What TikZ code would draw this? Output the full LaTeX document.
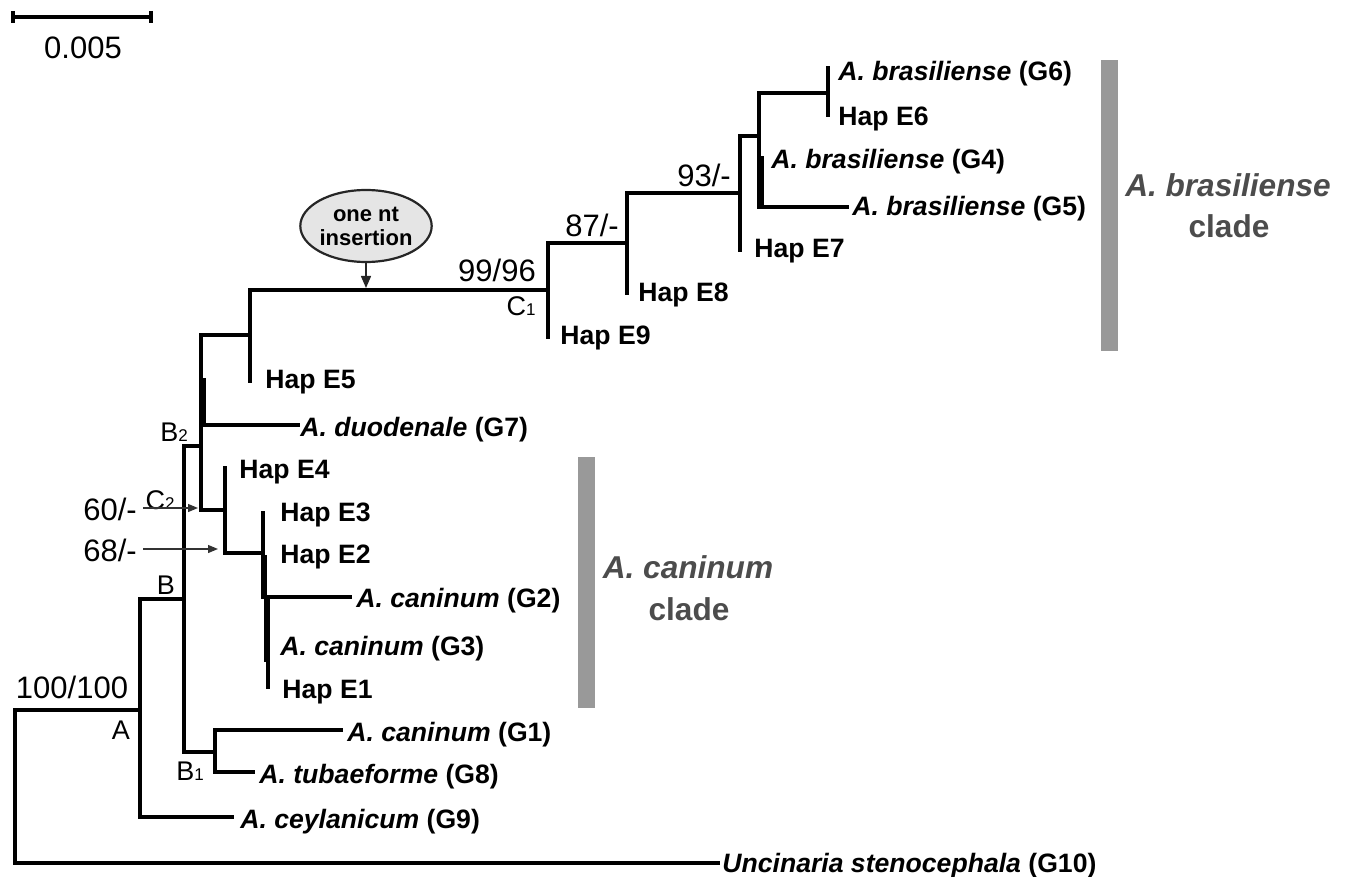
\documentclass[tikz,border=0pt]{standalone}
\usepackage{fontspec}
\setmainfont{Liberation Sans}
\usetikzlibrary{arrows.meta,shapes.geometric}
\newcommand\subn[1]{{\fontsize{8.5}{8.5}\selectfont #1}}
\begin{document}
\begin{tikzpicture}[x=0.5pt,y=-0.5pt,
  tree/.style={line width=1.9pt, line cap=rect, line join=miter},
  tiplab/.style={anchor=base west, inner sep=0pt, font=\bfseries\fontsize{13.3}{13.3}\selectfont},
  suplab/.style={anchor=center, inner sep=0pt, font=\fontsize{15.5}{15.5}\selectfont},
  nodelab/.style={anchor=center, inner sep=0pt, font=\fontsize{13.5}{13.5}\selectfont},
  pointer/.style={line width=0.6pt, draw=black!80, -{Triangle[length=5pt,width=4pt]}},
  cladebar/.style={fill=black!40, draw=none},
  cladetext/.style={anchor=base, inner sep=0pt, text=black!70, font=\bfseries\fontsize{15.8}{15.8}\selectfont}]
\useasboundingbox (0,0) rectangle (1345,877);

% ---- scale bar
\coordinate (sbL) at (13,17); \coordinate (sbR) at (151,17);
\coordinate (sbLt) at (13,11); \coordinate (sbLb) at (13,23);
\coordinate (sbRt) at (151,11); \coordinate (sbRb) at (151,23);
\draw[line width=1.9pt] (sbL) -- (sbR);
\draw[line width=1.9pt] (sbLt) -- (sbLb);
\draw[line width=1.9pt] (sbRt) -- (sbRb);
\node[suplab] (sbtext) at (83,48) {0.005};

% ---- internal nodes
\coordinate (R)   at (15,786);
\coordinate (nA)  at (140,710);
\coordinate (nB)  at (184,599);
\coordinate (nB1) at (215,752);
\coordinate (nB2) at (201,446);
\coordinate (nDt) at (204,380);
\coordinate (nD)  at (204,425);
\coordinate (nE5) at (250,335);
\coordinate (nC2) at (225,510);
\coordinate (nC2b) at (225,553);
\coordinate (nE2) at (263,553);
\coordinate (nE2b) at (263,597);
\coordinate (nE2t) at (265,557);
\coordinate (nE2u) at (265,597);
\coordinate (nG2) at (268,597);
\coordinate (nG2t) at (266,597);
\coordinate (nG2u) at (266,660);
\coordinate (nC1) at (548,290);
\coordinate (nE8) at (627,243);
\coordinate (n93) at (740,193);
\coordinate (nG5) at (759,136);
\coordinate (nG5b) at (759,207);
\coordinate (nG4t) at (762,158);
\coordinate (nG4) at (762,207);
\coordinate (nE6) at (828,93);

% ---- tips
\coordinate (tG10) at (718,863);
\coordinate (tG9) at (232,817);
\coordinate (tG1) at (341,730);
\coordinate (tG8) at (253,772);
\coordinate (tG7) at (298,425);
\coordinate (tE5) at (250,381);
\coordinate (tE4) at (225,468);
\coordinate (tE3) at (263,513);
\coordinate (tG2) at (350,597);
\coordinate (tE1) at (268,687);
\coordinate (tE9) at (548,337);
\coordinate (tE8) at (627,293);
\coordinate (tE7) at (740,250);
\coordinate (tG5) at (847,207);
\coordinate (tG6) at (828,68);
\coordinate (tE6) at (828,115);

% ---- branches
\draw[tree] (nA) -| (R) |- (tG10);
\draw[tree] (nB) -| (nA) |- (tG9);
\draw[tree] (nB2) -| (nB) |- (nB1);
\draw[tree] (tG1) -| (nB1) |- (tG8);
\draw[tree] (nE5) -| (nB2) |- (nC2);
\draw[tree] (nDt) -- (nD) -- (tG7);
\draw[tree] (nC1) -| (nE5) |- (tE5);
\draw[tree] (tE4) -- (nC2b) -- (nE2);
\draw[tree] (tE3) -- (nE2b);
\draw[tree] (nE2t) -- (nE2u);
\draw[tree] (nG2) -- (tE1);
\draw[tree] (nG2t) -- (nG2u);
\draw[tree] (nG2) -- (tG2);
\draw[tree] (nE8) -| (nC1) |- (tE9);
\draw[tree] (n93) -| (nE8) |- (tE8);
\draw[tree] (nG5) -| (n93) |- (tE7);
\draw[tree] (nE6) -| (nG5) -- (nG5b) -- (tG5);
\draw[tree] (nG4t) -- (nG4);
\draw[tree] (tG6) -- (tE6);

% ---- tip labels
\node[tiplab] (lG6) at (838,81) {\textit{A. brasiliense} (G6)};
\node[tiplab] (lE6) at (838,126) {Hap E6};
\node[tiplab] (lG4) at (771,169) {\textit{A. brasiliense} (G4)};
\node[tiplab] (lG5) at (852,216) {\textit{A. brasiliense} (G5)};
\node[tiplab] (lE7) at (754,258) {Hap E7};
\node[tiplab] (lE8) at (638,302) {Hap E8};
\node[tiplab] (lE9) at (560,345) {Hap E9};
\node[tiplab] (lE5) at (265,388) {Hap E5};
\node[tiplab] (lG7) at (300,437) {\textit{A. duodenale} (G7)};
\node[tiplab] (lE4) at (239,478) {Hap E4};
\node[tiplab] (lE3) at (280,521) {Hap E3};
\node[tiplab] (lE2) at (280,563) {Hap E2};
\node[tiplab] (lG2) at (356,607) {\textit{A. caninum} (G2)};
\node[tiplab] (lG3) at (280,655) {\textit{A. caninum} (G3)};
\node[tiplab] (lE1) at (282,698) {Hap E1};
\node[tiplab] (lG1) at (347,741) {\textit{A. caninum} (G1)};
\node[tiplab] (lG8) at (259,783) {\textit{A. tubaeforme} (G8)};
\node[tiplab] (lG9) at (240,828) {\textit{A. ceylanicum} (G9)};
\node[tiplab] (lG10) at (722,872) {\textit{Uncinaria stenocephala} (G10)};

% ---- support values and node names
\node[suplab] (s100) at (72,687) {100/100};
\node[suplab] (s99) at (497,270) {99/96};
\node[suplab] (s87) at (592,225) {87/-};
\node[suplab] (s93) at (704,175) {93/-};
\node[suplab] (s60) at (110,509) {60/-};
\node[suplab] (s68) at (110,550) {68/-};
\node[nodelab] (lA) at (121,730) {A};
\node[nodelab] (lB) at (166,585) {B};
\node[nodelab] (lB1) at (190,771) {B\subn{1}};
\node[nodelab] (lB2) at (174,432) {B\subn{2}};
\node[nodelab] (lC2) at (160,500) {C\subn{2}};
\node[nodelab] (lC1) at (521,306) {C\subn{1}};

% ---- pointer arrows
\coordinate (p60s) at (143,508); \coordinate (p60e) at (198,508);
\coordinate (p68s) at (143,549); \coordinate (p68e) at (218,549);
\draw[pointer] (p60s) -- (p60e);
\draw[pointer] (p68s) -- (p68e);

% ---- insertion callout
\node[ellipse, draw=black!85, fill=black!10, line width=1.1pt, minimum width=62.5pt, minimum height=36pt, inner sep=0pt, align=center, font=\bfseries\fontsize{11}{12}\selectfont] (ins) at (366,226) {one nt\\insertion};
\coordinate (insT) at (366,288);
\draw[line width=0.7pt, draw=black!85, -{Triangle[length=6pt,width=5pt]}] (ins.south) -- (insT);

% ---- clade bars and labels
\fill[cladebar] (1101,60) rectangle (1118,351);
\fill[cladebar] (578,457) rectangle (595,708);
\node[cladetext] (cbr1) at (1228,197) {\textit{A. brasiliense}};
\node[cladetext] (cbr2) at (1229,238) {clade};
\node[cladetext] (cca1) at (688,578) {\textit{A. caninum}};
\node[cladetext] (cca2) at (689,620) {clade};
\end{tikzpicture}
\end{document}
